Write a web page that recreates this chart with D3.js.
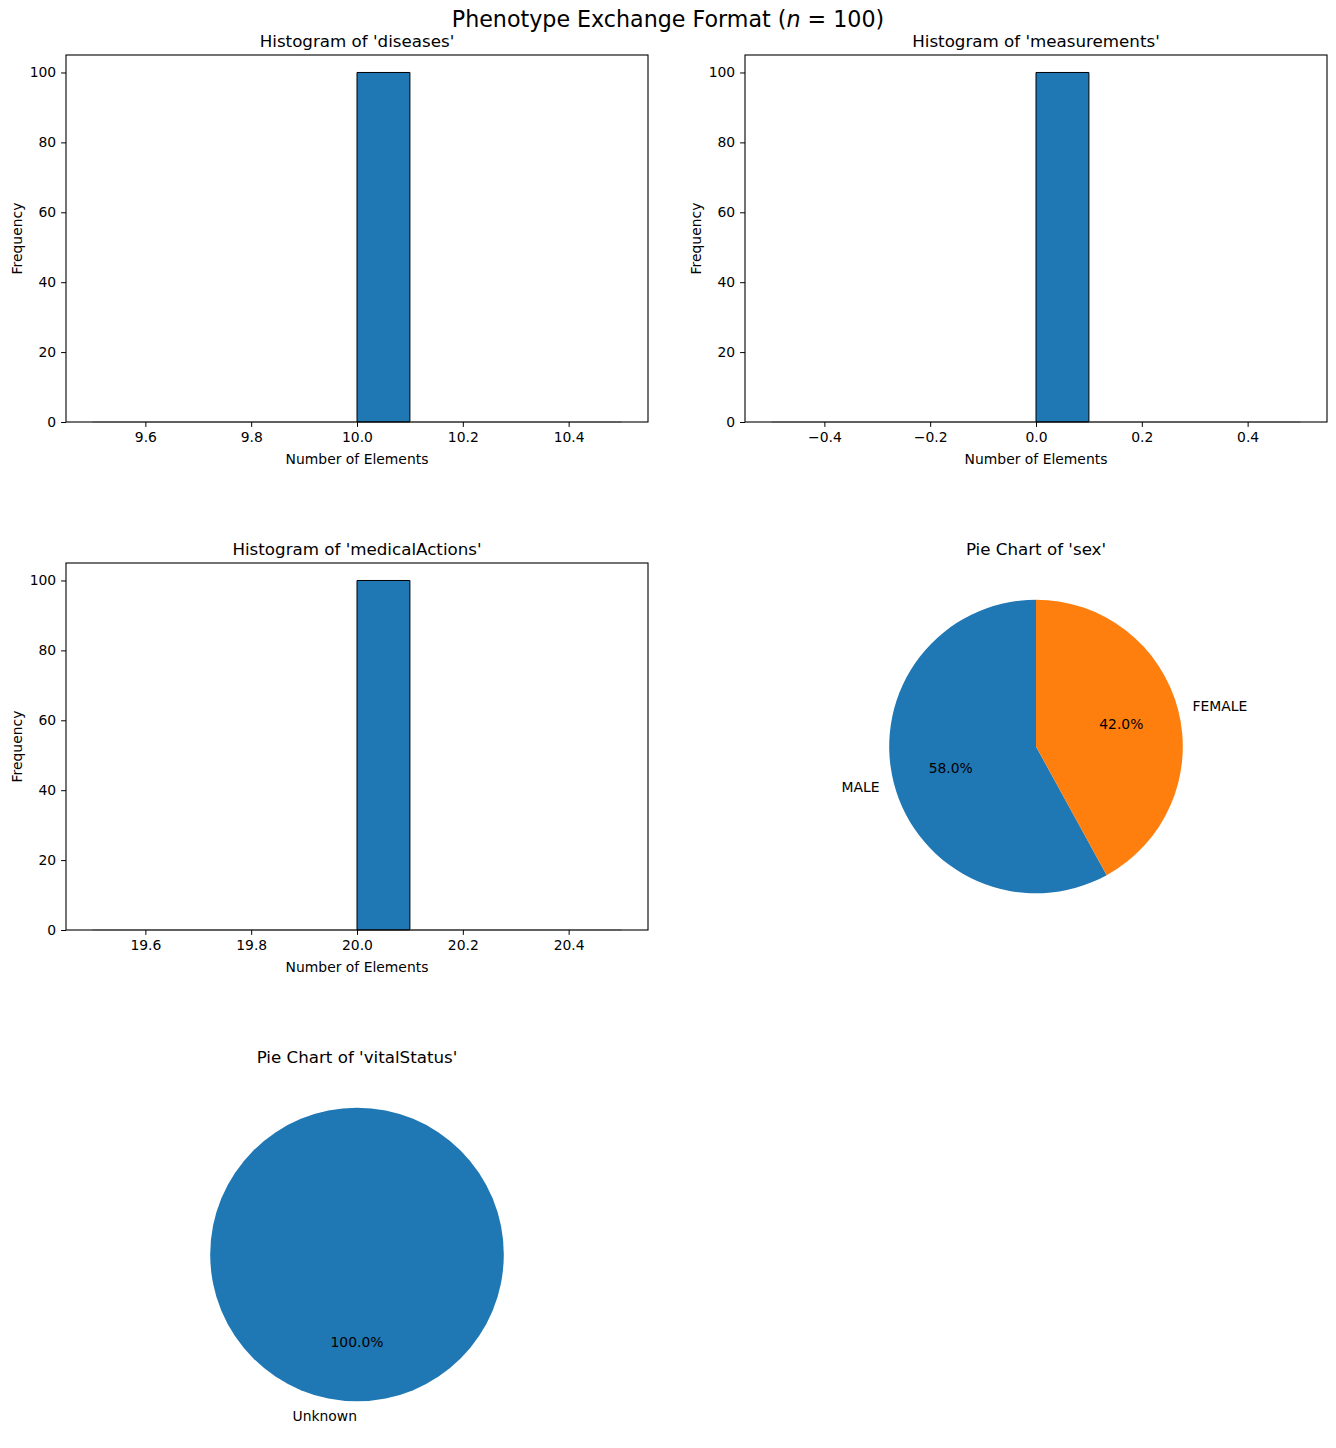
<!DOCTYPE html>
<html><head><meta charset="utf-8">
<script src="https://cdn.jsdelivr.net/npm/d3@7"></script>
<style>
body{margin:0;background:#fff;}
text{font-family:"DejaVu Sans",sans-serif;fill:#000;}
</style></head>
<body>
<svg id="fig" width="1336" height="1448"></svg>
<script>
// ---------------- data ----------------
const sampleN = 100;
const diseasesRange = [9.5, 10.5];
const diseasesCounts = [0, 0, 0, 0, 0, 100, 0, 0, 0, 0];
const diseasesTicks = [9.6, 9.8, 10.0, 10.2, 10.4];

const measurementsRange = [-0.5, 0.5];
const measurementsCounts = [0, 0, 0, 0, 0, 100, 0, 0, 0, 0];
const measurementsTicks = [-0.4, -0.2, 0.0, 0.2, 0.4];

const medicalActionsRange = [19.5, 20.5];
const medicalActionsCounts = [0, 0, 0, 0, 0, 100, 0, 0, 0, 0];
const medicalActionsTicks = [19.6, 19.8, 20.0, 20.2, 20.4];

const freqTicks = [0, 20, 40, 60, 80, 100];

const sexLabels = ["MALE", "FEMALE"];
const sexValues = [58, 42];
const vitalLabels = ["Unknown"];
const vitalValues = [100];

const palette = ["#1f77b4", "#ff7f0e"];

// ---------------- layout ----------------
const svg = d3.select("#fig");
const W = 1336;
const colX = [66, 745];
const axW = 582;
const rowY = [55, 563, 1071];
const axH = 367;
const TICK = 4.9, PAD = 4.9;

svg.append("text")
  .attr("x", W / 2).attr("y", 27)
  .attr("text-anchor", "middle")
  .style("font-size", "22.2px")
  .call(t => {
    t.append("tspan").text("Phenotype Exchange Format (");
    t.append("tspan").style("font-style", "italic").text("n");
    t.append("tspan").text(" = " + sampleN + ")");
  });

function histogram(x0, y0, name, range, counts, ticks) {
  const g = svg.append("g").attr("transform", `translate(${x0},${y0})`);
  const span = range[1] - range[0];
  const x = d3.scaleLinear()
    .domain([range[0] - 0.05 * span, range[1] + 0.05 * span])
    .range([0, axW]);
  const y = d3.scaleLinear().domain([0, d3.max(counts) * 1.05]).range([axH, 0]);
  const bw = span / counts.length;
  const bins = counts.map((c, i) => ({ a: range[0] + i * bw, b: range[0] + (i + 1) * bw, c }));

  g.selectAll("path.bar").data(bins).join("path")
    .attr("class", "bar")
    .attr("d", d => `M${x(d.a)},${y(0)}V${y(d.c)}H${x(d.b)}V${y(0)}Z`)
    .attr("fill", palette[0])
    .attr("stroke", d => d.c > 0 ? "#000" : "#c8c8c8")
    .attr("stroke-width", 1);

  // spines
  g.append("rect").attr("width", axW).attr("height", axH)
    .attr("fill", "none").attr("stroke", "#000").attr("stroke-width", 1.1);

  const fmt = d3.format(".1f");
  const xa = g.append("g").attr("transform", `translate(0,${axH})`)
    .call(d3.axisBottom(x).tickValues(ticks).tickFormat(fmt).tickSize(TICK).tickPadding(PAD));
  const ya = g.append("g")
    .call(d3.axisLeft(y).tickValues(freqTicks).tickFormat(d3.format("d")).tickSize(TICK).tickPadding(PAD));
  [xa, ya].forEach(a => {
    a.select(".domain").remove();
    a.selectAll("text").style("font-size", "13.9px").attr("fill", "#000").style("font-family", "DejaVu Sans");
    a.selectAll("line").attr("stroke", "#000").attr("stroke-width", 1);
  });

  g.append("text").attr("x", axW / 2).attr("y", axH + 42)
    .attr("text-anchor", "middle").style("font-size", "13.9px").text("Number of Elements");
  g.append("text")
    .attr("transform", `translate(-44,${axH / 2}) rotate(-90)`)
    .attr("text-anchor", "middle").style("font-size", "13.9px").text("Frequency");
  g.append("text").attr("x", axW / 2).attr("y", -8.3)
    .attr("text-anchor", "middle").style("font-size", "16.7px").text(`Histogram of '${name}'`);
}

function pie(x0, y0, name, labels, values) {
  const g = svg.append("g").attr("transform", `translate(${x0},${y0})`);
  const cx = axW / 2, cy = axH / 2;
  const side = Math.min(axW, axH);
  const r = d3.scaleLinear().domain([0, 1.25]).range([0, side / 2]);
  const R = r(1);
  const total = d3.sum(values);
  // matplotlib: startangle 90, counterclockwise -> in d3 (clockwise from 12 o'clock) go negative
  let acc = 0;
  const slices = values.map((v, i) => {
    const s = acc, e = acc + v / total * 2 * Math.PI;
    acc = e;
    return { label: labels[i], v, start: -s, end: -e, i };
  });
  const arc = d3.arc().innerRadius(0).outerRadius(R);
  const pg = g.append("g").attr("transform", `translate(${cx},${cy})`);
  pg.selectAll("path").data(slices).join("path")
    .attr("d", d => arc({ startAngle: d.end, endAngle: d.start }))
    .attr("fill", d => palette[d.i % palette.length]);

  slices.forEach(d => {
    const mid = (d.start + d.end) / 2; // d3 angle (clockwise from top)
    const sx = Math.sin(mid), sy = -Math.cos(mid);
    const lx = r(1.1) * sx, ly = r(1.1) * sy;
    const anchor = sx > 1e-9 ? "start" : "end";
    pg.append("text").attr("x", lx).attr("y", ly).attr("dy", "0.35em")
      .attr("text-anchor", anchor).style("font-size", "13.9px").text(d.label);
    pg.append("text").attr("x", r(0.6) * sx).attr("y", r(0.6) * sy).attr("dy", "0.35em")
      .attr("text-anchor", "middle").style("font-size", "13.9px")
      .text(d3.format(".1f")(d.v / total * 100) + "%");
  });
  g.append("text").attr("x", cx).attr("y", cy - side / 2 - 8.3)
    .attr("text-anchor", "middle").style("font-size", "16.7px").text(`Pie Chart of '${name}'`);
}

histogram(colX[0], rowY[0], "diseases", diseasesRange, diseasesCounts, diseasesTicks);
histogram(colX[1], rowY[0], "measurements", measurementsRange, measurementsCounts, measurementsTicks);
histogram(colX[0], rowY[1], "medicalActions", medicalActionsRange, medicalActionsCounts, medicalActionsTicks);
pie(colX[1], rowY[1], "sex", sexLabels, sexValues);
pie(colX[0], rowY[2], "vitalStatus", vitalLabels, vitalValues);
</script>
</body></html>
